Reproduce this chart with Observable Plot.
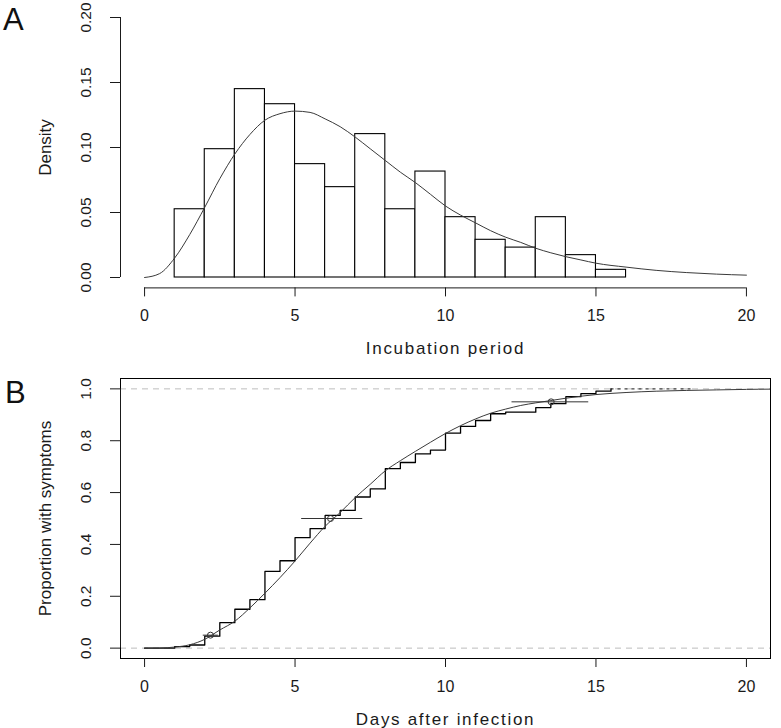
<!DOCTYPE html>
<html>
<head>
<meta charset="utf-8">
<script src="https://cdn.jsdelivr.net/npm/d3@7"></script>
<script src="https://cdn.jsdelivr.net/npm/@observablehq/plot@0.6"></script>
<style>
  html, body { margin: 0; padding: 0; background: #fff; }
  #wrap { position: relative; width: 781px; height: 728px; font-family: "Liberation Sans", Arial, sans-serif; }
  .panel-label { position: absolute; font-size: 31px; line-height: 1; color: #111; }
  svg { display: block; }
</style>
</head>
<body>
<div id="wrap">
  <div id="chartA"></div>
  <div id="chartB"></div>
  <div class="panel-label" style="left:3px; top:4px;">A</div>
  <div class="panel-label" style="left:5px; top:377px;">B</div>
</div>
<script>
// ---------- Panel A: histogram of incubation period ----------
const binStart   = [1, 2, 3, 4, 5, 6, 7, 8, 9, 10, 11, 12, 13, 14, 15];
const binEnd     = [2, 3, 4, 5, 6, 7, 8, 9, 10, 11, 12, 13, 14, 15, 16];
const binDensity = [0.0525, 0.0987, 0.1449, 0.1333, 0.0872, 0.0695, 0.1103, 0.0525, 0.0815, 0.0464, 0.029, 0.023, 0.0464, 0.0172, 0.0059];

const densX = [0, 0.5, 1, 1.5, 2, 2.5, 3, 3.5, 4, 4.5, 5, 5.5, 6, 6.5, 7, 7.5, 8, 8.5, 9, 9.5, 10, 10.5, 11, 11.5, 12, 12.5, 13, 13.5, 14, 14.5, 15, 16, 17, 18, 19, 20];
const densY = [0, 0.003, 0.015, 0.033, 0.054, 0.076, 0.095, 0.110, 0.121, 0.126, 0.128, 0.127, 0.122, 0.116, 0.108, 0.099, 0.090, 0.081, 0.073, 0.064, 0.055, 0.048, 0.042, 0.036, 0.031, 0.027, 0.0225, 0.019, 0.016, 0.0135, 0.011, 0.008, 0.0055, 0.0038, 0.0026, 0.0018];

const xTicks  = [0, 5, 10, 15, 20];
const yTicksA = [0, 0.05, 0.10, 0.15, 0.20];
const xTitleA = "Incubation period";
const yTitleA = "Density";

// ---------- Panel B: cumulative proportion with symptoms ----------
const stepX = [0, 1, 1.5, 2, 2.5, 3, 3.5, 4, 4.5, 5, 5.5, 6, 6.5, 7, 7.5, 8, 8.5, 9, 9.5, 10, 10.5, 11, 11.5, 12, 13, 13.5, 14, 14.5, 15, 15.5];
const stepY = [0, 0.006, 0.012, 0.046, 0.098, 0.150, 0.187, 0.296, 0.337, 0.426, 0.461, 0.512, 0.531, 0.583, 0.614, 0.692, 0.716, 0.749, 0.764, 0.829, 0.855, 0.878, 0.904, 0.910, 0.928, 0.943, 0.970, 0.982, 0.991, 1.0];
const stepTailX = [15.5, 18.2];

const cdfX = [0, 0.5, 1, 1.5, 2, 2.5, 3, 3.5, 4, 4.5, 5, 5.5, 6, 6.5, 7, 7.5, 8, 8.5, 9, 9.5, 10, 10.5, 11, 11.5, 12, 12.5, 13, 13.5, 14, 15, 16, 17, 18, 19, 20, 20.8];
const cdfY = [0, 0.0005, 0.004, 0.013, 0.034, 0.07, 0.104, 0.155, 0.212, 0.272, 0.336, 0.405, 0.470, 0.523, 0.581, 0.632, 0.684, 0.723, 0.759, 0.794, 0.828, 0.858, 0.884, 0.906, 0.922, 0.936, 0.946, 0.955, 0.964, 0.978, 0.986, 0.991, 0.994, 0.996, 0.998, 0.999];

const qProb = [0.05, 0.5, 0.95];
const qEst  = [2.19, 6.18, 13.51];
const qLow  = [1.95, 5.22, 12.21];
const qHigh = [2.45, 7.25, 14.76];

const yTicksB = [0, 0.2, 0.4, 0.6, 0.8, 1.0];
const refLinesB = [0, 1];
const xTitleB = "Days after infection";
const yTitleB = "Proportion with symptoms";

// ---------- shared layout ----------
const xDomain  = [-0.8, 20.8];
const yDomainA = [-0.008, 0.208];
const yDomainB = [-0.04, 1.04];
const FONT = "Liberation Sans, Arial, sans-serif";
const INK = "#1a1a1a";

const bins = binStart.map((s, i) => ({x0: s, x1: binEnd[i], d: binDensity[i]}));
const dens = densX.map((x, i) => ({x, y: densY[i]}));
const steps = stepX.map((x, i) => ({x, y: stepY[i]}));
const cdf = cdfX.map((x, i) => ({x, y: cdfY[i]}));
const quant = qProb.map((p, i) => ({p, est: qEst[i], lo: qLow[i], hi: qHigh[i]}));

function yAxisMarks(ticks, fmt, title, yMid) {
  return [
    Plot.ruleX([xDomain[0]], {y1: ticks[0], y2: ticks[ticks.length - 1], stroke: INK, strokeWidth: 1}),
    Plot.axisY({ticks, tickSize: 10, tickFormat: () => "", stroke: INK}),
    Plot.text(ticks, {x: xDomain[0], y: d => d, text: fmt, rotate: -90, dx: -34,
      textAnchor: "middle", lineAnchor: "middle", fontSize: 15.5, fill: INK, clip: false}),
    Plot.text([title], {x: xDomain[0], y: yMid, rotate: -90, dx: -75,
      textAnchor: "middle", lineAnchor: "middle", fontSize: 17, fill: INK})
  ];
}

function xAxisMarks(title, yBottom, withLine) {
  const m = [
    Plot.axisX({ticks: xTicks, tickSize: 9, tickPadding: 13, fontSize: 16, stroke: INK, color: INK})
  ];
  if (withLine) m.push(Plot.ruleY([yBottom], {x1: xTicks[0], x2: xTicks[xTicks.length - 1], stroke: INK, strokeWidth: 1}));
  m.push(Plot.text([title], {x: (xDomain[0] + xDomain[1]) / 2, y: yBottom, dy: 54,
    lineAnchor: "top", textAnchor: "middle", fontSize: 17, fill: INK}));
  return m;
}

const chartA = Plot.plot({
  width: 781, height: 364,
  marginLeft: 120, marginRight: 11, marginTop: 6.6, marginBottom: 76.6,
  style: {fontFamily: FONT, background: "white", overflow: "visible"},
  x: {domain: xDomain},
  y: {domain: yDomainA},
  marks: [
    Plot.rect(bins, {x1: "x0", x2: "x1", y1: 0, y2: "d", fill: "white", stroke: "black", strokeWidth: 1.1}),
    Plot.line(dens, {x: "x", y: "y", stroke: "#3a3a3a", strokeWidth: 1, curve: "monotone-x"}),
    ...yAxisMarks(yTicksA, d => d.toFixed(2), yTitleA, (yDomainA[0] + yDomainA[1]) / 2),
    ...xAxisMarks(xTitleA, yDomainA[0], true)
  ]
});

const chartB = Plot.plot({
  width: 781, height: 364,
  marginLeft: 120, marginRight: 11, marginTop: 14, marginBottom: 70,
  style: {fontFamily: FONT, background: "white", overflow: "visible"},
  x: {domain: xDomain},
  y: {domain: yDomainB},
  marks: [
    Plot.ruleY(refLinesB, {stroke: "#bdbdbd", strokeDasharray: "6,5", strokeWidth: 1}),
    Plot.ruleY([1], {x1: stepTailX[0], x2: stepTailX[1], stroke: "#444", strokeDasharray: "3,4", strokeWidth: 1.2}),
    Plot.line(steps, {x: "x", y: "y", curve: "step-after", stroke: "black", strokeWidth: 1.3}),
    Plot.line(cdf, {x: "x", y: "y", stroke: "#3a3a3a", strokeWidth: 1, curve: "monotone-x"}),
    Plot.ruleY(quant, {y: "p", x1: "lo", x2: "hi", stroke: "#333", strokeWidth: 1}),
    Plot.dot(quant, {x: "est", y: "p", r: 3, stroke: "#333", fill: "none", strokeWidth: 1}),
    Plot.frame({stroke: "black", strokeWidth: 1}),
    ...yAxisMarks(yTicksB, d => d.toFixed(1), yTitleB, (yDomainB[0] + yDomainB[1]) / 2),
    ...xAxisMarks(xTitleB, yDomainB[0], false)
  ]
});

// widen the horizontal axis titles a little, as in the original rendering
for (const [chart, title] of [[chartA, xTitleA], [chartB, xTitleB]]) {
  d3.select(chart).selectAll("text")
    .filter(function () { return this.textContent === title; })
    .attr("letter-spacing", "1.7");
}

document.getElementById("chartA").appendChild(chartA);
document.getElementById("chartB").appendChild(chartB);
</script>
</body>
</html>
